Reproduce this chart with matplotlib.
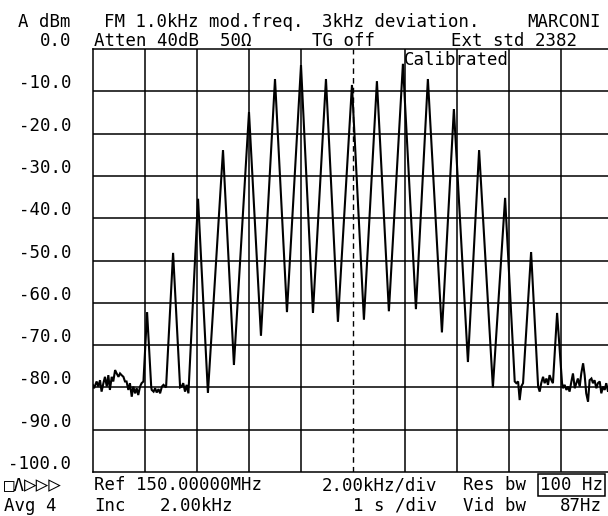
import matplotlib.pyplot as plt
import numpy as np

# frequency offset from 150.00000 MHz (kHz) and level (dBm)
peak_khz = [-7.92, -6.92, -5.96, -5.0, -4.0, -3.0, -2.0, -1.04, -0.04,
            0.92, 1.92, 2.88, 3.88, 4.85, 5.85, 6.85, 7.85]
peak_db = [-62.2, -48.2, -35.4, -23.9, -14.9, -7.1, -3.8, -7.1, -8.5,
           -7.6, -3.5, -7.1, -14.2, -23.9, -35.2, -48.0, -62.4]

valley_khz = [-5.58, -4.58, -3.54, -2.54, -1.54, -0.58,
              0.42, 1.38, 2.42, 3.42, 4.42, 5.38]
valley_db = [-81.3, -74.7, -67.8, -62.2, -62.4, -64.5,
             -64.0, -62.0, -61.5, -67.0, -74.0, -80.0]

# noise floor where the sidebands have died away
noise_khz = [-10.0, -9.96, -9.86, -9.80, -9.73, -9.67, -9.60, -9.54, -9.47, -9.41,
             -9.35, -9.28, -9.22, -9.15, -9.09, -9.02, -8.96, -8.90, -8.83,
             -8.77, -8.71, -8.64, -8.58, -8.51, -8.45, -8.38, -8.32, -8.26,
             -8.19, -8.13, -8.06,
             -7.76, -7.74, -7.67, -7.61, -7.55, -7.48, -7.42, -7.35, -7.29, -7.19,
             -6.65, -6.59, -6.53, -6.46, -6.40, -6.33,
             6.22, 6.28, 6.35, 6.41, 6.47, 6.54,
             7.12, 7.18, 7.24, 7.31, 7.37, 7.44, 7.50, 7.56, 7.63, 7.69,
             8.04, 8.08, 8.14, 8.21, 8.27, 8.33, 8.40, 8.46, 8.53, 8.59, 8.65,
             8.72, 8.78, 8.85, 8.91, 8.97, 9.04, 9.10, 9.17, 9.23, 9.29, 9.36,
             9.42, 9.49, 9.55, 9.62, 9.68, 9.74, 9.81, 9.87, 9.94, 10.0]
noise_db = [-79.5, -80.2, -78.6, -79.8, -78.3, -81.0, -79.0, -77.5, -79.8, -77.1,
            -80.6, -77.5, -78.6, -75.9, -76.7, -77.5, -76.7, -77.1, -77.5,
            -78.6, -78.6, -80.6, -79.0, -82.2, -79.8, -81.4, -80.2, -81.8,
            -79.8, -79.0, -78.6,
            -80.0, -80.6, -81.0, -80.2, -81.2, -80.4, -81.4, -79.8, -79.4, -80.0,
            -80.0, -79.8, -79.0, -81.0, -79.4, -81.4,
            -78.6, -79.0, -78.6, -83.0, -79.8, -79.0,
            -79.8, -81.0, -79.0, -77.5, -79.0, -77.9, -79.4, -77.1, -78.3, -79.0,
            -79.0, -80.2, -79.4, -80.6, -79.8, -81.0, -78.6, -76.7, -80.2, -79.0, -77.9,
            -79.8, -76.7, -74.3, -77.1, -81.4, -83.4, -78.3, -77.9, -79.0, -78.3, -80.2,
            -79.0, -78.6, -81.4, -79.8, -80.6, -79.0, -81.0, -79.6, -80.4, -79.2]

ylabels = ["0.0", "-10.0", "-20.0", "-30.0", "-40.0", "-50.0",
           "-60.0", "-70.0", "-80.0", "-90.0", "-100.0"]

W, H = 608, 516
fig = plt.figure(figsize=(W / 100, H / 100), dpi=100)
fig.patch.set_facecolor("white")

# plot box in pixels: x 93..613 (runs off the right edge), y 49..472
ax = fig.add_axes([93 / W, (H - 472) / H, 520 / W, 423 / H])
ax.set_xlim(-10, 10)
ax.set_ylim(-100, 0)
ax.set_xticks([])
ax.set_yticks([])
for s in ax.spines.values():
    s.set_linewidth(1.1)
    s.set_color("black")

for k in range(-8, 10, 2):
    if k == 0:
        ax.axvline(0, color="black", lw=1.0, ls=(0, (4, 3)), zorder=1)
    else:
        ax.axvline(k, color="black", lw=1.1, zorder=1)
for lev in range(-90, 0, 10):
    ax.axhline(lev, color="black", lw=1.1, zorder=1)

fx = np.concatenate([peak_khz, valley_khz, noise_khz])
fy = np.concatenate([peak_db, valley_db, noise_db])
order = np.argsort(fx, kind="stable")
ax.plot(fx[order], fy[order], color="black", lw=1.5, zorder=3,
        solid_joinstyle="miter")

font = dict(family=["DejaVu Sans Mono", "DejaVu Sans"], fontsize=12.5, color="black")


def txt(x, y, s, ha="left", **kw):
    opts = dict(font)
    opts.update(kw)
    fig.text(x / W, 1 - y / H, s, ha=ha, va="center", **opts)


txt(18, 22, "A dBm")
txt(104, 22, "FM 1.0kHz mod.freq.")
txt(322, 22, "3kHz deviation.")
txt(527, 22, "MARCONI")
txt(94, 41, "Atten 40dB  50Ω")
txt(312, 41, "TG off")
txt(451, 41, "Ext std 2382")
txt(404, 60, "Calibrated", zorder=5)

for i, lab in enumerate(ylabels):
    txt(71, 49 + 42.3 * i - 8, lab, ha="right")

txt(4, 485, "□Λ")
txt(24, 485, "▷▷▷", fontsize=15)
txt(94, 485, "Ref 150.00000MHz")
txt(322, 485, "2.00kHz/div")
txt(463, 485, "Res bw")
txt(540, 485, "100 Hz",
    bbox=dict(boxstyle="square,pad=0.12", fc="none", ec="black", lw=1.1))
txt(4, 506, "Avg 4")
txt(94, 506, "Inc")
txt(160, 506, "2.00kHz")
txt(353, 506, "1 s /div")
txt(463, 506, "Vid bw")
txt(560, 506, "87Hz")

fig.savefig("out.png", dpi=100)
